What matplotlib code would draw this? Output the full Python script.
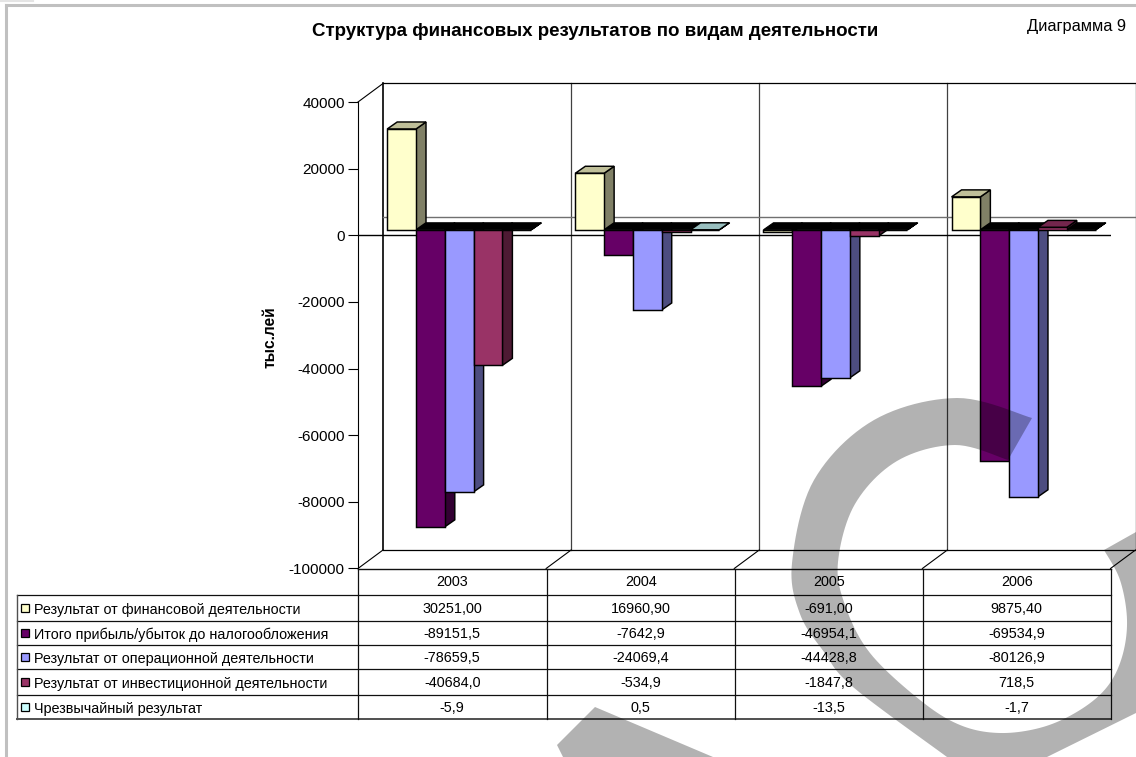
import matplotlib
matplotlib.use('Agg')
import matplotlib.pyplot as plt
import numpy as np
from matplotlib.patches import Polygon, Rectangle

plt.rcParams['font.family'] = ['Liberation Sans', 'DejaVu Sans']

years = ['2003', '2004', '2005', '2006']
series_names = ['Результат от финансовой деятельности',
                'Итого прибыль/убыток до налогообложения',
                'Результат от операционной деятельности',
                'Результат от инвестиционной деятельности',
                'Чрезвычайный результат']
fin_result = [30251.00, 16960.90, -691.00, 9875.40]
total_profit = [-89151.5, -7642.9, -46954.1, -69534.9]
oper_result = [-78659.5, -24069.4, -44428.8, -80126.9]
invest_result = [-40684.0, -534.9, -1847.8, 718.5]
extra_result = [-5.9, 0.5, -13.5, -1.7]
decimals = [2, 1, 1, 1, 1]
y_ticks = [40000, 20000, 0, -20000, -40000, -60000, -80000, -100000]

all_series = [fin_result, total_profit, oper_result, invest_result, extra_result]
front_col = ['#FFFFCC', '#660066', '#9999FF', '#993366', '#CCFFFF']
side_col = ['#808066', '#330033', '#4D4D80', '#4D1A33', '#668080']
top_col = ['#BFBF99', '#4D004D', '#7373BF', '#73264D', '#99BFBF']

W, H = 1136, 757
fig = plt.figure(figsize=(W / 100, H / 100), dpi=100)
fig.patch.set_facecolor('white')

# главная ось: передняя плоскость диаграммы
ax = fig.add_axes([358 / W, 1 - 568.5 / H, 752.5 / W, 466.5 / H])
ax.set_xlim(0, 4)
ax.set_ylim(-100000, 40000)
ax.patch.set_alpha(0)
for s in ['top', 'right', 'bottom']:
    ax.spines[s].set_visible(False)
ax.spines['left'].set_linewidth(0.8)
ax.set_xticks([])
ax.set_yticks(y_ticks)
ax.set_yticklabels([str(v) for v in y_ticks], fontsize=11)
ax.tick_params(axis='y', length=7.5, width=0.8, pad=2)

px_x = 4 / 752.5
px_y = 140000 / 466.5
wall_dx, wall_dy = 25 * px_x, 18.5 * px_y
base_dy = 5.5 * px_y
bar_dx, bar_dy = 10 * px_x, 7 * px_y
bar_w = 28.8 * px_x
bar_off = 29.2 * px_x

# задняя стенка и пол
for i in range(5):
    c = 'black' if i in (0, 4) else '#404040'
    ax.plot([i + wall_dx] * 2, [-100000 + wall_dy, 40000 + wall_dy], color=c,
            lw=1.2 if i == 0 else 0.9, clip_on=False, zorder=1)
    ax.plot([i, i + wall_dx], [-100000, -100000 + wall_dy], color='black', lw=0.8, clip_on=False, zorder=1)
ax.plot([wall_dx, 4 + wall_dx], [40000 + wall_dy] * 2, color='black', lw=0.9, clip_on=False, zorder=1)
ax.plot([wall_dx, 4 + wall_dx], [-100000 + wall_dy] * 2, color='black', lw=0.9, clip_on=False, zorder=1)
ax.plot([wall_dx, 4 + wall_dx], [wall_dy, wall_dy], color='#707070', lw=1, clip_on=False, zorder=1)
ax.plot([0, wall_dx], [40000, 40000 + wall_dy], color='black', lw=0.8, clip_on=False, zorder=1)
ax.plot([0, 4], [0, 0], color='black', lw=1, zorder=1.5)

EDGE = 1.05
for j, vals in enumerate(all_series):
    for i, v in enumerate(vals):
        x0 = i + bar_off + j * bar_w
        x1 = x0 + bar_w
        y0 = base_dy
        y1 = base_dy + v
        # порядок: боковины отрицательных, чёрные площадки, положительные столбцы, фасады
        side_z = 2 + j * 0.01 if v < 0 else 4 + j * 0.01
        ax.add_patch(Polygon([(x1, y0), (x1 + bar_dx, y0 + bar_dy), (x1 + bar_dx, y1 + bar_dy), (x1, y1)],
                             fc=side_col[j], ec='black', lw=EDGE, clip_on=False, zorder=side_z))
        if v > 0:
            ax.add_patch(Polygon([(x0, y1), (x1, y1), (x1 + bar_dx, y1 + bar_dy), (x0 + bar_dx, y1 + bar_dy)],
                                 fc=top_col[j], ec='black', lw=EDGE, clip_on=False, zorder=4 + j * 0.01))
        else:
            ax.add_patch(Polygon([(x0, y0), (x1, y0), (x1 + bar_dx, y0 + bar_dy), (x0 + bar_dx, y0 + bar_dy)],
                                 fc='black', ec='black', lw=0.8, clip_on=False, zorder=3))
        ax.add_patch(Rectangle((x0, min(y0, y1)), bar_w, abs(v), fc=front_col[j], ec='black', lw=EDGE,
                               clip_on=False, zorder=4 + j * 0.01))

# оверлей в пикселях: таблица, подписи, водяной знак
ov = fig.add_axes([0, 0, 1, 1], zorder=5)
ov.set_xlim(0, W)
ov.set_ylim(H, 0)
ov.axis('off')

ov.plot([6, 6], [5, H], color='#C0C0C0', lw=2.2)
ov.plot([6, W], [5, 5], color='#C0C0C0', lw=2.2)
ov.plot([0, 33], [0.5, 0.5], color='#E4E4E4', lw=1.5)

ov.text(595.5, 31.5, 'Структура финансовых результатов по видам деятельности', ha='center', va='center',
        fontsize=13.5, fontweight='bold')
ov.text(1076.5, 26, 'Диаграмма 9', ha='center', va='center', fontsize=12 * 0.98)
ov.text(270, 337, 'тыс.лей', rotation=90, ha='center', va='center', fontsize=11.2, fontweight='bold')

col_x = [358, 546.5, 735, 923, 1110.5]
row_y = [595, 620.5, 645, 669, 694.5, 718.5]
head_y = 569
tc = '#101010'
ov.plot([col_x[0], col_x[-1]], [head_y, head_y], color=tc, lw=1)
for y in row_y[:-1]:
    ov.plot([17, col_x[-1]], [y, y], color=tc, lw=0.9)
ov.plot([17, col_x[-1]], [row_y[-1], row_y[-1]], color='#505050', lw=1.4)
ov.plot([17, 17], [row_y[0], row_y[-1]], color='#505050', lw=1)
for x in col_x:
    ov.plot([x, x], [head_y, row_y[-1]], color=tc, lw=0.9)

for i, yr in enumerate(years):
    ov.text((col_x[i] + col_x[i + 1]) / 2, 582.5, yr, ha='center', va='center', fontsize=10.35)
for j, name in enumerate(series_names):
    yc = (row_y[j] + row_y[j + 1]) / 2
    ov.add_patch(Rectangle((21, yc - 4), 8, 8, fc=front_col[j], ec='black', lw=0.9))
    ov.text(34, yc + 2, name, ha='left', va='center', fontsize=10.35)
    for i, v in enumerate(all_series[j]):
        txt = f'{v:.{decimals[j]}f}'.replace('.', ',')
        ov.text((col_x[i] + col_x[i + 1]) / 2, yc + 1, txt, ha='center', va='center', fontsize=10.35)


def smooth(pts, n=12):
    # сплайн Катмулла-Рома по контрольным точкам
    p = np.array(pts, dtype=float)
    p = np.vstack([p[0], p, p[-1]])
    out = []
    for k in range(1, len(p) - 2):
        for t in np.linspace(0, 1, n, endpoint=False):
            out.append(0.5 * (2 * p[k] + (p[k + 1] - p[k - 1]) * t
                              + (2 * p[k - 1] - 5 * p[k] + 4 * p[k + 1] - p[k + 2]) * t ** 2
                              + (3 * p[k] - p[k - 1] - 3 * p[k + 1] + p[k + 2]) * t ** 3))
    out.append(p[-2])
    return out


outer = smooth([(1032, 418), (957, 398), (874, 420), (814, 480), (792, 563), (800, 614),
                (824, 652), (853, 687), (947, 757)])
inner = smooth([(1104, 550), (1120, 580), (1127, 620), (1122, 657), (1107, 687), (1080, 710),
                (1043, 727), (1000, 733), (960, 725), (920, 700), (870, 653), (845, 605),
                (838, 562), (855, 504), (897, 461), (955, 445), (1008, 460)])
ring = outer + [(1047, 757), (1136, 713), (1136, 532)] + inner
ov.add_patch(Polygon(ring, fc='black', ec='none', alpha=0.3, zorder=10))
ov.add_patch(Polygon([(595, 707), (557, 745), (563, 757), (713, 757)], fc='black', ec='none', alpha=0.3, zorder=10))

fig.savefig('out.png', dpi=100)
